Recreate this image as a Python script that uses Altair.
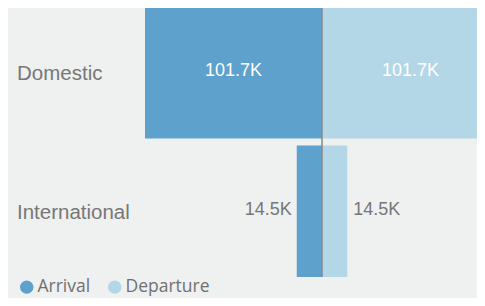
import altair as alt
import pandas as pd

categories = ["Domestic", "International"]
directions = ["Arrival", "Departure"]
arrival_k = [101.7, 14.5]
departure_k = [101.7, 14.5]
colors = ["#5DA1CC", "#B3D7E6"]

rows = []
for c, a, d in zip(categories, arrival_k, departure_k):
    rows.append({"category": c, "direction": "Arrival", "value": a, "signed": -a,
                 "mid": -a / 2, "label": f"{a:.1f}K"})
    rows.append({"category": c, "direction": "Departure", "value": d, "signed": d,
                 "mid": d / 2, "label": f"{d:.1f}K"})
df = pd.DataFrame(rows)
cat_df = pd.DataFrame({"category": categories})
zero_df = pd.DataFrame({"x": [0]})

W, H = 469, 290
px_per_k = 177 / 101.7
zero_x = 314
x_domain = [-zero_x / px_per_k, (W - zero_x) / px_per_k]

x_scale = alt.Scale(domain=x_domain, nice=False, zero=False)
y_scale = alt.Scale(domain=categories, range=[-1, 269], paddingInner=0.05, paddingOuter=0)

base = alt.Chart(df)

bars = base.mark_bar(clip=True).encode(
    x=alt.X("signed:Q", scale=x_scale, axis=None),
    x2=alt.X2(datum=0),
    y=alt.Y("category:N", scale=y_scale, axis=None, sort=categories),
    color=alt.Color(
        "direction:N",
        scale=alt.Scale(domain=directions, range=colors),
        legend=alt.Legend(
            title=None, orient="none", legendX=10, legendY=270, direction="horizontal",
            symbolType="circle", symbolSize=180, symbolStrokeWidth=0, symbolOpacity=1,
            labelFont="Open Sans", labelFontSize=17.5, labelColor="#707070",
            labelOffset=2, columnPadding=15, padding=0,
        ),
    ),
)

rule = alt.Chart(zero_df).mark_rule(color="#888888", strokeWidth=1.5).encode(
    x=alt.X("x:Q", scale=x_scale, axis=None),
    y=alt.value(-1),
    y2=alt.value(269),
)

inside = base.transform_filter("datum.value > 50").mark_text(
    font="Liberation Sans", fontSize=18, color="#FFFFFF", dy=-1.5
).encode(
    x=alt.X("mid:Q", scale=x_scale, axis=None),
    y=alt.Y("category:N", scale=y_scale, axis=None, sort=categories),
    text="label:N",
)

out_arr = base.transform_filter("datum.value <= 50 && datum.direction == 'Arrival'").mark_text(
    font="Liberation Sans", fontSize=18, color="#777777", align="right", dx=-5, dy=-1.5
).encode(
    x=alt.X("signed:Q", scale=x_scale, axis=None),
    y=alt.Y("category:N", scale=y_scale, axis=None, sort=categories),
    text="label:N",
)

out_dep = base.transform_filter("datum.value <= 50 && datum.direction == 'Departure'").mark_text(
    font="Liberation Sans", fontSize=18, color="#777777", align="left", dx=6, dy=-1.5
).encode(
    x=alt.X("signed:Q", scale=x_scale, axis=None),
    y=alt.Y("category:N", scale=y_scale, axis=None, sort=categories),
    text="label:N",
)

cat_labels = alt.Chart(cat_df).mark_text(
    font="Liberation Sans", fontSize=20.5, color="#777777", align="left", dy=1.5
).encode(
    x=alt.value(9),
    y=alt.Y("category:N", scale=y_scale, axis=None, sort=categories),
    text="category:N",
)

chart = alt.layer(bars, rule, inside, out_arr, out_dep, cat_labels).properties(
    width=W, height=H, background="#EFF0F0", padding=0,
    autosize=alt.AutoSizeParams(type="none"),
).configure_view(stroke=None)

chart.save("out.html", embed_options={"renderer": "svg", "actions": False})
